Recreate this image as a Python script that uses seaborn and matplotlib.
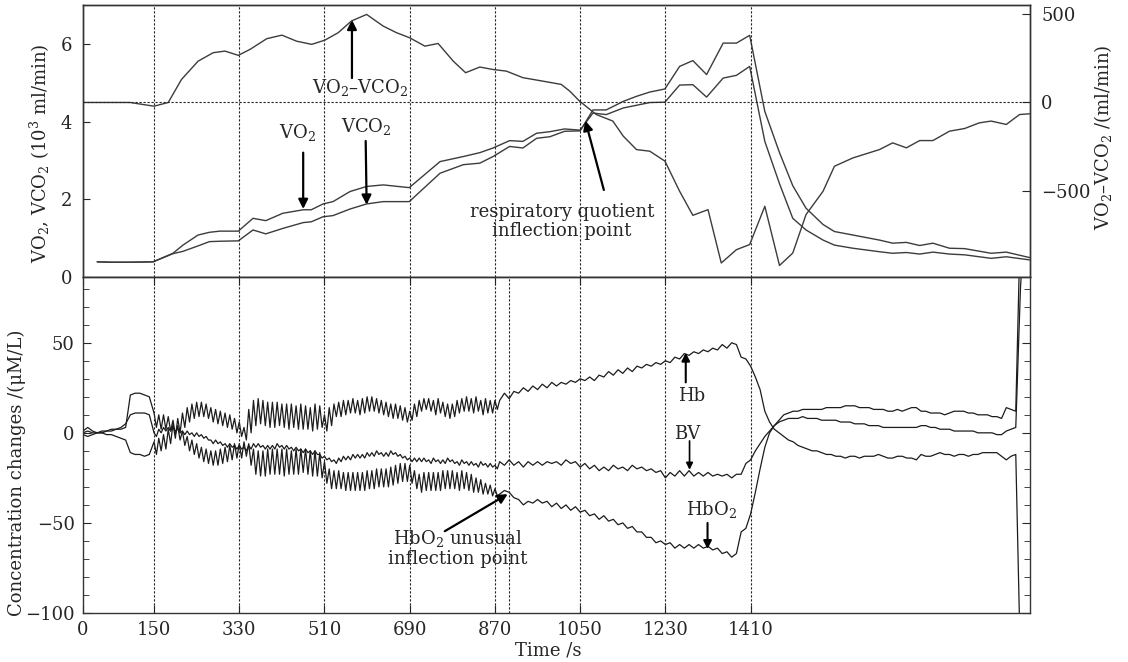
import matplotlib
matplotlib.use("Agg")
import matplotlib.pyplot as plt
from matplotlib.ticker import MultipleLocator
import seaborn as sns
import numpy as np

sns.set_style("ticks")
plt.rcParams['font.family'] = ['DejaVu Serif']
plt.rcParams['mathtext.fontset'] = 'dejavuserif'
plt.rcParams['font.size'] = 12

# ---- gas exchange (top panel) ----
t_gas = [30, 60, 100, 148, 190, 211, 243, 267, 289, 328, 359, 386, 422, 465, 482,
         507, 528, 564, 599, 634, 689, 754, 803, 838, 866, 901, 929, 958, 986, 1017,
         1050, 1077, 1105, 1141, 1169, 1197, 1229, 1260, 1288, 1317, 1352, 1380, 1408,
         1440, 1471, 1499, 1527, 1563, 1587, 1626, 1682, 1710, 1739, 1767, 1795, 1830,
         1862, 1918, 1950, 1999]
vo2 = [0.39, 0.38, 0.38, 0.39, 0.61, 0.82, 1.08, 1.15, 1.18, 1.18, 1.51, 1.45, 1.64, 1.73, 1.73,
       1.88, 1.94, 2.20, 2.33, 2.37, 2.30, 2.97, 3.10, 3.20, 3.32, 3.51, 3.49, 3.70, 3.74, 3.81,
       3.78, 4.22, 4.18, 4.35, 4.42, 4.49, 4.50, 4.94, 4.95, 4.63, 5.12, 5.19, 5.42,
       3.49, 2.40, 1.51, 1.21, 0.95, 0.82, 0.74, 0.65, 0.61, 0.63, 0.59, 0.64, 0.59,
       0.57, 0.48, 0.52, 0.44]
vco2 = [0.39, 0.38, 0.38, 0.39, 0.60, 0.66, 0.80, 0.91, 0.92, 0.93, 1.21, 1.11, 1.25, 1.40, 1.42,
        1.55, 1.58, 1.75, 1.88, 1.94, 1.94, 2.67, 2.89, 2.93, 3.10, 3.36, 3.32, 3.57, 3.61, 3.75,
        3.76, 4.30, 4.30, 4.52, 4.65, 4.76, 4.84, 5.42, 5.57, 5.21, 6.02, 6.02, 6.22,
        4.26, 3.20, 2.35, 1.77, 1.35, 1.17, 1.08, 0.95, 0.87, 0.89, 0.81, 0.87, 0.74,
        0.73, 0.61, 0.64, 0.50]

t_diff = [0, 99, 150, 180, 208, 243, 275, 300, 328, 353, 388, 420, 451, 483, 511, 539,
          567, 599, 634, 662, 690, 722, 750, 782, 808, 838, 866, 894, 929, 972, 1010,
          1028, 1049, 1084, 1119, 1141, 1169, 1197, 1229, 1260, 1288, 1320, 1348, 1380,
          1408, 1440, 1471, 1499, 1527, 1563, 1587, 1626, 1682, 1710, 1739, 1767, 1795,
          1830, 1862, 1893, 1918, 1950, 1978, 1999]
vo2_minus_vco2 = [0, 0, -21, 0, 130, 233, 281, 290, 266, 300, 360, 380, 346, 328, 352, 394,
                  460, 497, 431, 394, 365, 318, 333, 233, 168, 200, 186, 177, 140, 120, 102,
                  64, 7, -68, -105, -190, -266, -275, -331, -501, -637, -605, -906, -831,
                  -802, -586, -920, -850, -633, -501, -360, -313, -266, -228, -256, -215, -215,
                  -162, -147, -115, -105, -124, -68, -64]

# ---- NIRS concentration changes (bottom panel) ----
# 10 s steps before 150 s and after 880 s, 5 s steps in the noisy 150-875 s stretch
t_nirs = np.concatenate([np.arange(0, 150, 10), np.arange(150, 880, 5), np.arange(880, 2000, 10)])

hb = [-1, -2, -1, 0, 0, -1, -1, -2, -3, -4, -11, -12, -12, -13, -12,
      # 150-875 s
      -5, -12, -3, -10, -1, -9, 2, -6, 5, -3, 8, 0, 11, 3, 14, 6, 16, 8, 17, 9,
      17, 9, 16, 8, 14, 6, 13, 5, 12, 4, 11, 3, 10, 2, 8, 0, 6, -2, 3, -4,
      13, 0, 18, 4, 19, 5, 18, 4, 17, 3, 17, 3, 17, 4, 16, 3, 16, 2, 16, 3,
      15, 2, 16, 2, 15, 2, 14, 1, 16, 2, 15, 3, 10, 1, 14, 4,
      16, 9, 17, 9, 18, 10, 18, 11, 19, 11, 18, 10, 19, 11, 20, 12, 20, 12, 19, 11,
      18, 10, 17, 9, 16, 8, 16, 8, 15, 7, 14, 6, 12, 7, 16, 9, 18, 12, 19, 13,
      19, 12, 18, 10, 19, 11, 17, 9, 16, 8, 16, 9, 18, 11, 19, 12, 20, 12, 19, 11,
      20, 12, 18, 10, 19, 11, 18, 11, 18, 13,
      # 880-1990 s
      18, 22,
      19, 23, 22, 25, 23, 26, 24, 27, 25, 28,
      26, 28, 27, 29, 28, 30, 29, 31, 29, 32,
      31, 34, 32, 35, 33, 36, 34, 37, 36, 38,
      37, 39, 38, 40, 39, 42, 41, 44, 43, 45,
      44, 46, 45, 47, 46, 49, 47, 50, 49, 42,
      41, 37, 31, 24, 12, 6, 2, 0, -2, -4,
      -5, -7, -8, -9, -10, -10, -11, -12, -12, -13,
      -13, -14, -13, -13, -14, -13, -13, -13, -12, -13,
      -14, -14, -13, -13, -14, -14, -15, -12, -13, -13,
      -12, -11, -12, -12, -13, -12, -12, -13, -12, -12,
      -11, -11, -11, -11, -13, -15, -13, -12, -130, -130]

bv = [0, 1, 0, 0, 1, 1, 2, 2, 3, 5, 10, 11, 11, 11, 10,
      # 150-875 s
      0, -2, 2, 0, 3, 1, 3, 1, 3, 1, 2, 0, 1, -1, 1, -1, 0, -2, 0, -2,
      -1, -3, -2, -4, -4, -6, -4, -6, -5, -7, -6, -8, -6, -8, -7, -9, -7, -9, -8, -10,
      -7, -9, -6, -8, -6, -8, -7, -9, -7, -9, -7, -9, -6, -8, -7, -9, -7, -9, -8, -10,
      -8, -10, -9, -11, -9, -11, -10, -12, -10, -12, -12, -14, -13, -15, -14, -16,
      -15, -17, -14, -16, -13, -15, -13, -15, -12, -14, -12, -14, -12, -14, -11, -13, -11, -13, -10, -12,
      -11, -13, -11, -13, -10, -12, -11, -13, -12, -14, -13, -15, -14, -16, -14, -16, -14, -16, -14, -16,
      -15, -17, -14, -16, -15, -17, -15, -17, -14, -16, -15, -17, -16, -18, -15, -17, -16, -18, -16, -18,
      -17, -19, -16, -18, -17, -19, -17, -19, -18, -20,
      # 880-1990 s
      -16, -18,
      -15, -18, -16, -19, -16, -18, -16, -18, -16, -17,
      -16, -18, -15, -17, -16, -19, -17, -20, -18, -21,
      -19, -21, -18, -20, -19, -21, -18, -20, -19, -21,
      -20, -22, -21, -25, -22, -24, -21, -24, -21, -24,
      -22, -24, -22, -24, -23, -24, -23, -25, -23, -23,
      -17, -15, -10, -6, -2, 1, 4, 6, 7, 8,
      8, 8, 9, 8, 8, 8, 7, 7, 7, 7,
      6, 6, 6, 5, 5, 5, 4, 4, 4, 3,
      3, 3, 3, 3, 3, 3, 3, 4, 4, 3,
      3, 2, 2, 2, 1, 1, 1, 1, 1, 0,
      0, 0, 0, -1, -1, 1, 2, 3, 81, 120]

hbo2 = [1, 3, 1, 0, 0, 1, 1, 2, 2, 3, 21, 22, 22, 21, 20,
        # 150-875 s
        11, 3, 10, 2, 10, 2, 9, 1, 7, -1, 4, -4, 1, -7, -2, -10, -4, -12, -6, -14,
        -8, -16, -9, -17, -10, -18, -10, -18, -9, -17, -8, -16, -7, -15, -6, -14, -6, -14, -5, -13,
        -6, -18, -9, -23, -10, -24, -10, -24, -9, -23, -9, -23, -9, -23, -9, -24, -9, -23, -10, -23,
        -9, -23, -9, -22, -9, -23, -10, -24, -10, -24, -11, -25, -16, -28, -20, -31,
        -21, -31, -21, -31, -22, -32, -22, -32, -22, -32, -22, -32, -22, -32, -21, -31, -21, -31, -20, -30,
        -20, -30, -20, -30, -19, -29, -18, -28, -17, -27, -17, -27, -18, -28, -21, -31, -23, -33, -22, -32,
        -22, -32, -22, -32, -22, -32, -21, -31, -21, -31, -21, -31, -22, -32, -21, -31, -22, -32, -23, -33,
        -25, -33, -26, -34, -28, -34, -29, -35, -31, -35,
        # 880-1990 s
        -34, -32,
        -33, -36, -37, -40, -38, -39, -37, -39, -38, -41,
        -39, -42, -40, -43, -41, -44, -43, -46, -45, -48,
        -46, -49, -48, -51, -50, -53, -52, -55, -55, -58,
        -58, -61, -60, -62, -61, -64, -62, -64, -62, -64,
        -62, -64, -63, -65, -64, -67, -66, -69, -67, -55,
        -53, -45, -33, -20, -8, 0, 4, 7, 10, 11,
        12, 12, 13, 13, 13, 13, 13, 14, 14, 14,
        14, 15, 15, 15, 14, 14, 14, 13, 13, 13,
        12, 12, 13, 12, 13, 14, 14, 12, 12, 11,
        11, 11, 10, 11, 12, 12, 12, 11, 11, 10,
        10, 10, 9, 9, 8, 14, 13, 12, 120, 120]

stage_times = [150, 330, 510, 690, 870, 1050, 1230, 1410]
x_ticks = [0, 150, 330, 510, 690, 870, 1050, 1230, 1410]

fig = plt.figure(figsize=(11.28, 6.62), dpi=100)
ax_top = fig.add_axes([0.0736, 0.5816, 0.8395, 0.4108])
ax_bot = fig.add_axes([0.0736, 0.074, 0.8395, 0.5076])
ax_r = ax_top.twinx()

dot = (0, (2, 1.6))
gas_col = '#3c3c3c'
nirs_col = '#1c1c1c'

# top panel
sns.lineplot(x=t_gas, y=vo2, ax=ax_top, color=gas_col, lw=1.0, estimator=None)
sns.lineplot(x=t_gas, y=vco2, ax=ax_top, color=gas_col, lw=1.0, estimator=None)
sns.lineplot(x=t_diff, y=vo2_minus_vco2, ax=ax_r, color=gas_col, lw=1.0, estimator=None)
for t in stage_times:
    ax_top.axvline(t, color='#222222', lw=0.8, ls=dot)
ax_r.axhline(0, color='#222222', lw=0.8, ls=dot)

ax_top.set_xlim(0, 2000)
ax_top.set_ylim(0, 7)
ax_top.set_yticks([0, 2, 4, 6])
ax_top.set_xticks([])
ax_top.set_xlabel('')
ax_top.set_ylabel('')
ax_top.tick_params(axis='y', direction='in', length=5, pad=8, labelsize=13)
ax_r.set_ylim(-985, 550)
ax_r.set_yticks([-500, 0, 500])
ax_r.set_ylabel('')
ax_r.tick_params(axis='y', direction='in', length=6, pad=8, labelsize=13)

arrow_big = dict(arrowstyle='-|>', color='black', lw=1.6, mutation_scale=14, shrinkA=0, shrinkB=0)
arrow_mid = dict(arrowstyle='-|>', color='black', lw=1.5, mutation_scale=12, shrinkA=0, shrinkB=0)
arrow_small = dict(arrowstyle='-|>', color='black', lw=1.2, mutation_scale=10, shrinkA=0, shrinkB=0)

ax_top.annotate('', xy=(568, 6.62), xytext=(568, 5.12), arrowprops=arrow_big)
ax_top.text(585, 4.88, 'VO$_2$–VCO$_2$', ha='center', va='center', fontsize=13)
ax_top.annotate('', xy=(465, 1.75), xytext=(465, 3.2), arrowprops=arrow_big)
ax_top.text(452, 3.72, 'VO$_2$', ha='center', va='center', fontsize=13)
ax_top.annotate('', xy=(599, 1.86), xytext=(597, 3.5), arrowprops=arrow_big)
ax_top.text(598, 3.88, 'VCO$_2$', ha='center', va='center', fontsize=13)
ax_top.annotate('', xy=(1061, 4.02), xytext=(1100, 2.24), arrowprops=arrow_big)
ax_top.text(1011, 1.42, 'respiratory quotient\ninflection point', ha='center', va='center',
            fontsize=13, linespacing=1.05)

# bottom panel
sns.lineplot(x=t_nirs, y=hb, ax=ax_bot, color=nirs_col, lw=0.9, estimator=None)
sns.lineplot(x=t_nirs, y=bv, ax=ax_bot, color=nirs_col, lw=0.9, estimator=None)
sns.lineplot(x=t_nirs, y=hbo2, ax=ax_bot, color=nirs_col, lw=0.9, estimator=None)
for t in stage_times + [900]:
    ax_bot.axvline(t, color='#222222', lw=0.8, ls=dot)

ax_bot.set_xlim(0, 2000)
ax_bot.set_ylim(-100, 86.5)
ax_bot.set_xticks(x_ticks)
ax_bot.set_yticks([-100, -50, 0, 50])
ax_bot.yaxis.set_minor_locator(MultipleLocator(10))
ax_bot.tick_params(axis='both', which='both', direction='in', top=True, right=True, labelsize=13)
ax_bot.tick_params(axis='y', which='major', length=6, pad=6)
ax_bot.tick_params(axis='y', which='minor', length=4)
ax_bot.tick_params(axis='x', which='major', length=6, pad=6)
ax_bot.set_xlabel('')
ax_bot.set_ylabel('')

ax_bot.annotate('', xy=(1273, 44.5), xytext=(1273, 28), arrowprops=arrow_mid)
ax_bot.text(1286, 20.5, 'Hb', ha='center', va='center', fontsize=13)
ax_bot.annotate('', xy=(1281, -20.5), xytext=(1281, -4.5), arrowprops=arrow_small)
ax_bot.text(1277, -0.6, 'BV', ha='center', va='center', fontsize=13)
ax_bot.annotate('', xy=(1319, -64.5), xytext=(1319, -50), arrowprops=arrow_mid)
ax_bot.text(1328, -42.3, 'HbO$_2$', ha='center', va='center', fontsize=13)
ax_bot.annotate('', xy=(897, -34), xytext=(764, -54.6), arrowprops=arrow_big)
ax_bot.text(792, -64, 'HbO$_2$ unusual\ninflection point', ha='center', va='center',
            fontsize=13, linespacing=1.05)

for ax in (ax_top, ax_bot, ax_r):
    for s in ax.spines.values():
        s.set_color('#333333')
        s.set_linewidth(1.0)

fig.text(0.0355, 0.769, 'VO$_2$, VCO$_2$ (10$^3$ ml/min)', rotation=90, ha='center', va='center', fontsize=13)
fig.text(0.978, 0.793, 'VO$_2$–VCO$_2$ /(ml/min)', rotation=90, ha='center', va='center', fontsize=13)
fig.text(0.015, 0.2855, 'Concentration changes /(μM/L)', rotation=90, ha='center', va='center', fontsize=13)
fig.text(0.486, 0.018, 'Time /s', ha='center', va='center', fontsize=13)

fig.savefig('out.png', dpi=100)
